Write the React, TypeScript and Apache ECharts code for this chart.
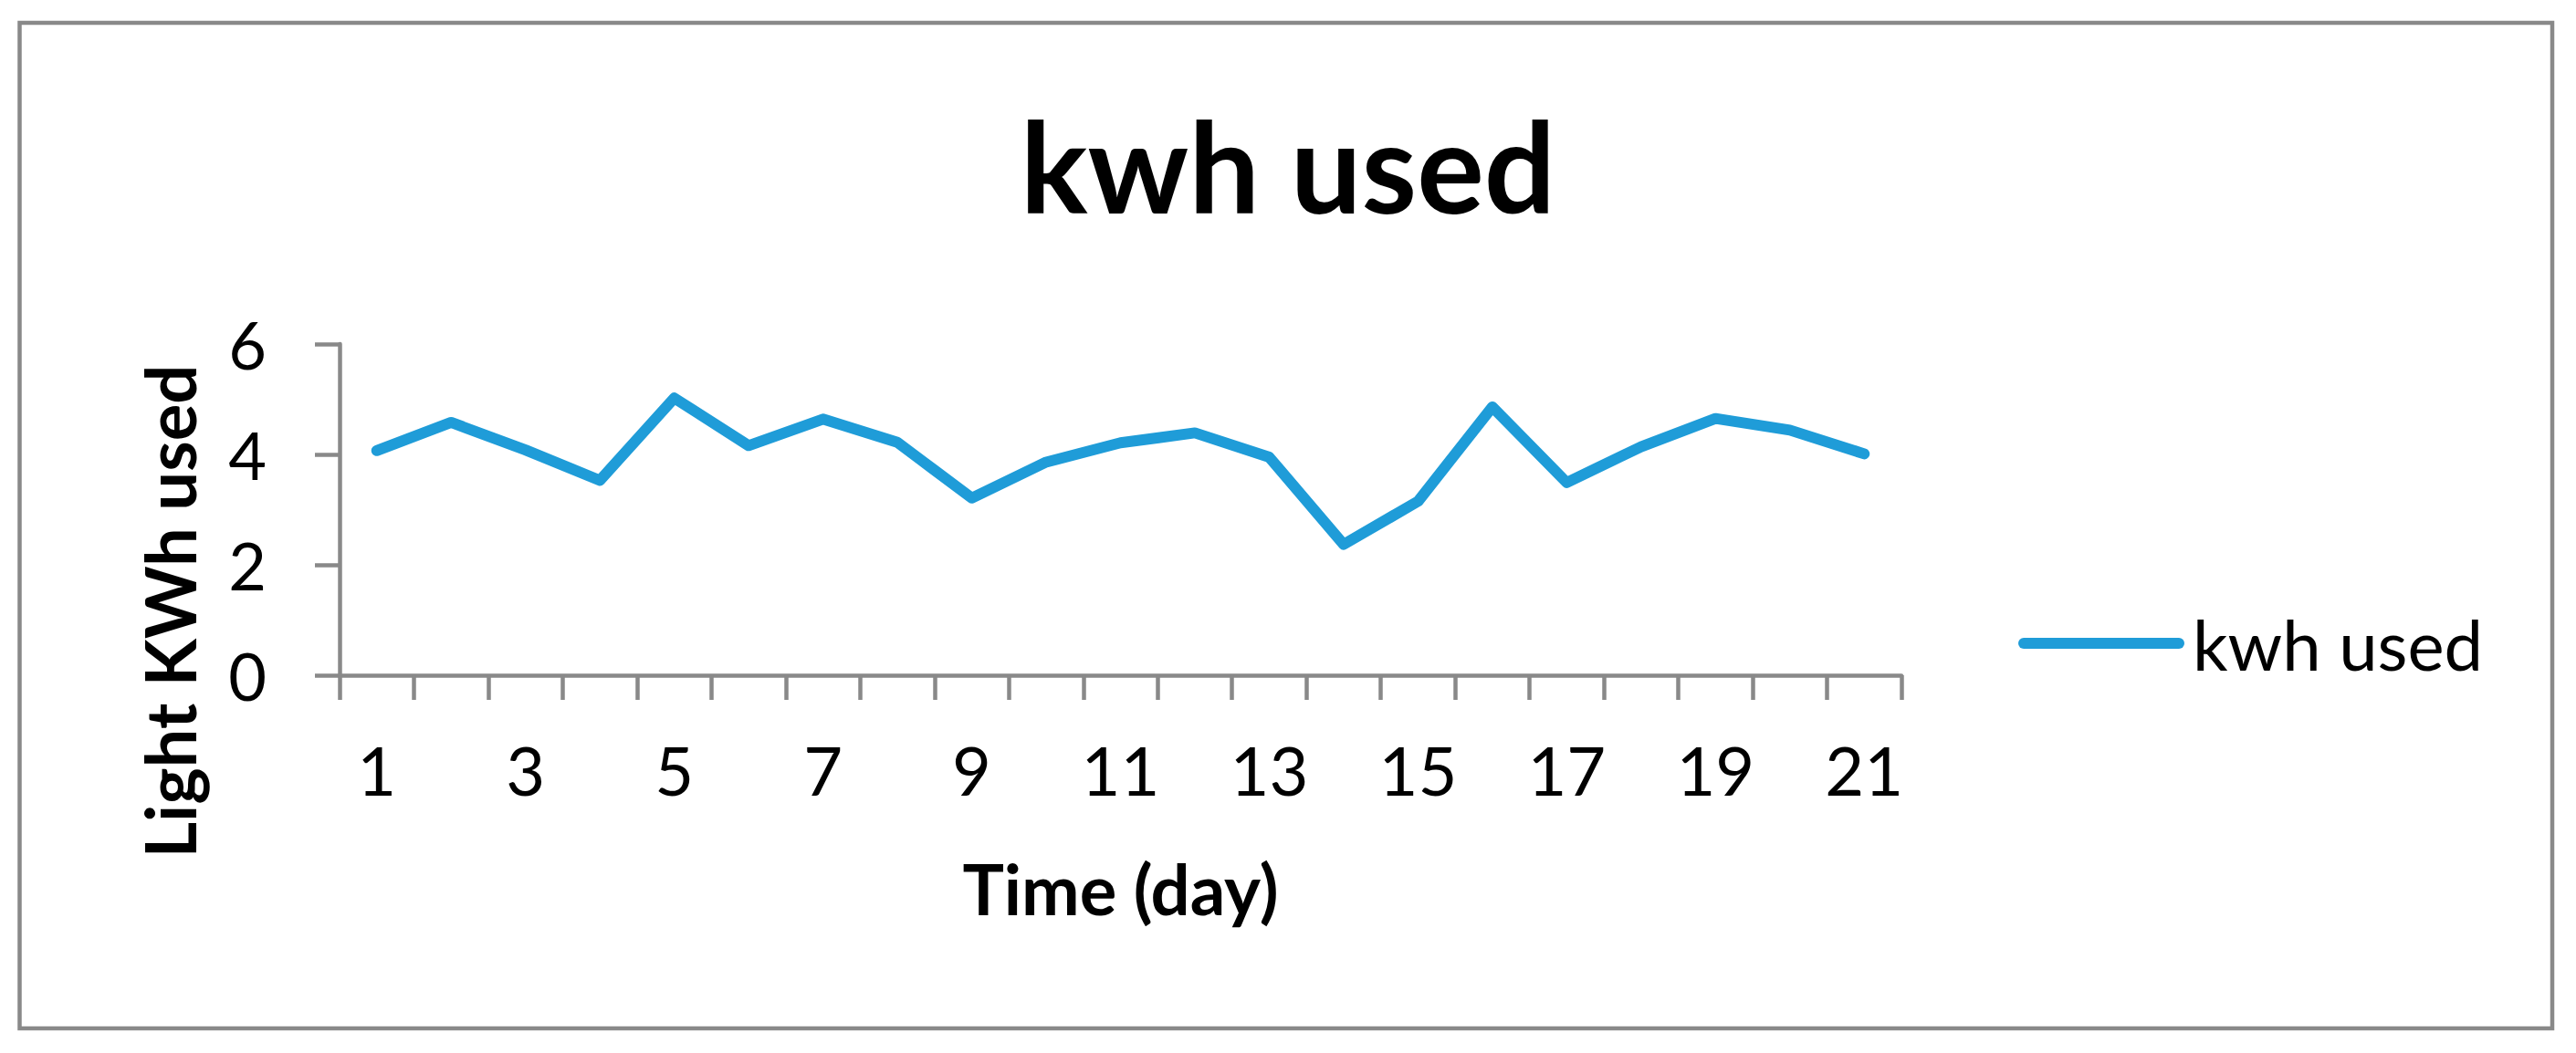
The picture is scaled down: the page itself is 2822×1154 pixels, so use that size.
import React, { useEffect, useRef } from "react";
import * as echarts from "echarts";

const days: string[] = ["1","2","3","4","5","6","7","8","9","10","11","12","13","14","15","16","17","18","19","20","21"];
const kwhUsed: number[] = [4.07, 4.58, 4.08, 3.53, 5.02, 4.16, 4.64, 4.22, 3.21, 3.86, 4.21, 4.39, 3.95, 2.37, 3.15, 4.86, 3.49, 4.14, 4.65, 4.44, 4.01];
const seriesName = "kwh used";
const chartTitle = "kwh used";
const xTitle = "Time (day)";
const yTitle = "Light KWh used";

const W = 2822;
const H = 1154;
const AXIS = "#898989";
const LINE = "#1F9CD8";
const FONT = "Lato";
const LEGEND_ICON = "path://M6,0 H176 A6,6 0 0 1 176,12 H6 A6,6 0 0 1 6,0 Z";

export default function App() {
  const ref = useRef<HTMLDivElement>(null);
  useEffect(() => {
    if (!ref.current) return;
    const chart = echarts.init(ref.current, undefined, { renderer: "svg", width: W, height: H });
    chart.setOption({
      animation: false,
      backgroundColor: "#ffffff",
      title: {
        text: chartTitle,
        left: "center",
        top: 106,
        textStyle: { fontFamily: FONT, fontWeight: "bold", fontSize: 138, color: "#000" },
      },
      legend: {
        data: [{ name: seriesName, icon: LEGEND_ICON }],
        left: 2206,
        top: 662,
        itemWidth: 182,
        itemHeight: 12,
        itemGap: 0,
        textStyle: { fontFamily: FONT, fontSize: 76, color: "#000", padding: [0, 0, 0, 4] },
      },
      grid: { left: 372, right: W - 2083, top: 377, bottom: H - 740, containLabel: false },
      xAxis: {
        type: "category",
        data: days,
        boundaryGap: true,
        name: xTitle,
        nameLocation: "middle",
        nameGap: 195,
        nameTextStyle: { fontFamily: FONT, fontWeight: "bold", fontSize: 76, color: "#000" },
        axisLine: { lineStyle: { color: AXIS, width: 4.5 } },
        axisTick: { show: true, interval: 0, length: 27, lineStyle: { color: AXIS, width: 4.5 } },
        axisLabel: { interval: 1, margin: 66, fontFamily: FONT, fontSize: 74, color: "#000" },
        splitLine: { show: false },
      },
      yAxis: {
        type: "value",
        min: 0,
        max: 6,
        interval: 2,
        axisLine: { show: true, lineStyle: { color: AXIS, width: 4.5 } },
        axisTick: { show: true, length: 27, lineStyle: { color: AXIS, width: 4.5 } },
        axisLabel: { margin: 80, fontFamily: FONT, fontSize: 72, color: "#000" },
        splitLine: { show: false },
      },
      graphic: [
        {
          type: "rect",
          shape: { x: 21.5, y: 25, width: 2796 - 21.5, height: 1127 - 25 },
          style: { fill: "none", stroke: AXIS, lineWidth: 4.5 },
          silent: true,
        },
        {
          type: "text",
          x: 185,
          y: 670,
          rotation: Math.PI / 2,
          style: {
            text: yTitle,
            fontFamily: FONT,
            fontWeight: "bold",
            fontSize: 76,
            fill: "#000",
            align: "center",
            verticalAlign: "middle",
          },
        },
      ],
      series: [
        {
          name: seriesName,
          type: "line",
          data: kwhUsed,
          symbol: "none",
          showSymbol: false,
          lineStyle: { color: LINE, width: 12, cap: "round", join: "round" },
          itemStyle: { color: LINE },
        },
      ],
    });
    return () => chart.dispose();
  }, []);
  return (
    <div
      ref={ref}
      style={{ position: "fixed", left: 0, top: 0, width: W, height: H, background: "#fff" }}
    />
  );
}
